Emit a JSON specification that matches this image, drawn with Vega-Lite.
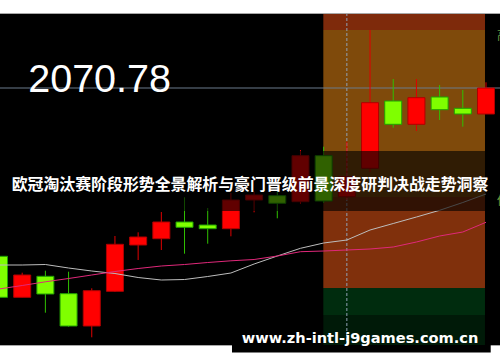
{
  "$schema": "https://vega.github.io/schema/vega-lite/v6.json",
  "width": 500,
  "height": 332,
  "autosize": {"type": "none"},
  "padding": {"left": 0, "right": 0, "top": 13, "bottom": 17},
  "background": "#ffffff",
  "view": {"fill": "#000000", "stroke": null},
  "datasets": {
    "one": [{}],
    "candles": [
      {"i": 0, "o": 1986.63, "c": 1966.13, "h": 1989.78, "l": 1962.28, "d": "down"},
      {"i": 1, "o": 1966.13, "c": 1977.28, "h": 1978.43, "l": 1966.13, "d": "up"},
      {"i": 2, "o": 1976.63, "c": 1967.78, "h": 1979.43, "l": 1958.43, "d": "down"},
      {"i": 3, "o": 1967.93, "c": 1951.78, "h": 1978.93, "l": 1951.43, "d": "down"},
      {"i": 4, "o": 1951.78, "c": 1969.43, "h": 1970.63, "l": 1946.13, "d": "up"},
      {"i": 5, "o": 1969.13, "c": 1992.63, "h": 1996.78, "l": 1968.78, "d": "up"},
      {"i": 6, "o": 1992.28, "c": 1996.28, "h": 1998.63, "l": 1984.78, "d": "up"},
      {"i": 7, "o": 1995.43, "c": 2003.78, "h": 2008.78, "l": 1989.78, "d": "up"},
      {"i": 8, "o": 2003.78, "c": 2001.13, "h": 2016.13, "l": 1987.93, "d": "down"},
      {"i": 9, "o": 2002.28, "c": 2000.43, "h": 2010.78, "l": 1992.93, "d": "down"},
      {"i": 10, "o": 2000.43, "c": 2014.78, "h": 2018.28, "l": 1996.63, "d": "up"},
      {"i": 11, "o": 2014.78, "c": 2017.28, "h": 2018.93, "l": 2008.63, "d": "up"},
      {"i": 12, "o": 2016.93, "c": 2013.13, "h": 2018.93, "l": 2005.63, "d": "down"},
      {"i": 13, "o": 2013.93, "c": 2036.93, "h": 2039.78, "l": 2012.78, "d": "up"},
      {"i": 14, "o": 2036.93, "c": 2014.28, "h": 2041.43, "l": 2013.28, "d": "down"},
      {"i": 15, "o": 2016.43, "c": 2026.43, "h": 2043.93, "l": 2014.78, "d": "up"},
      {"i": 16, "o": 2030.63, "c": 2063.43, "h": 2099.78, "l": 2028.78, "d": "up"},
      {"i": 17, "o": 2064.28, "c": 2052.63, "h": 2075.28, "l": 2050.93, "d": "down"},
      {"i": 18, "o": 2052.63, "c": 2065.93, "h": 2075.28, "l": 2049.28, "d": "up"},
      {"i": 19, "o": 2066.28, "c": 2059.93, "h": 2072.28, "l": 2054.78, "d": "down"},
      {"i": 20, "o": 2060.63, "c": 2057.78, "h": 2069.78, "l": 2051.43, "d": "down"},
      {"i": 21, "o": 2057.78, "c": 2070.78, "h": 2073.63, "l": 2057.78, "d": "up"}
    ],
    "ma": [
      {"i": 0, "ma5": 1982.28, "ma10": 1970.28},
      {"i": 1, "ma5": 1982.28, "ma10": 1972.03},
      {"i": 2, "ma5": 1982.53, "ma10": 1973.88},
      {"i": 3, "ma5": 1980.78, "ma10": 1975.53},
      {"i": 4, "ma5": 1979.28, "ma10": 1977.28},
      {"i": 5, "ma5": 1978.03, "ma10": 1979.03},
      {"i": 6, "ma5": 1976.03, "ma10": 1980.53},
      {"i": 7, "ma5": 1974.78, "ma10": 1981.78},
      {"i": 8, "ma5": 1975.03, "ma10": 1982.53},
      {"i": 9, "ma5": 1976.53, "ma10": 1983.53},
      {"i": 10, "ma5": 1978.28, "ma10": 1984.38},
      {"i": 11, "ma5": 1982.78, "ma10": 1985.03},
      {"i": 12, "ma5": 1986.78, "ma10": 1986.78},
      {"i": 13, "ma5": 1990.63, "ma10": 1988.93},
      {"i": 14, "ma5": 1993.28, "ma10": 1989.28},
      {"i": 15, "ma5": 1994.78, "ma10": 1989.78},
      {"i": 16, "ma5": 1999.78, "ma10": 1990.28},
      {"i": 17, "ma5": 2003.03, "ma10": 1991.28},
      {"i": 18, "ma5": 2006.28, "ma10": 1993.78},
      {"i": 19, "ma5": 2009.63, "ma10": 1996.78},
      {"i": 20, "ma5": 2013.53, "ma10": 1998.78},
      {"i": 21, "ma5": 2017.78, "ma10": 2003.63}
    ],
    "zones": [
      {"z": "a", "x0": 13.985, "x1": 20.957, "p0": 2099.78, "p1": 2108.28},
      {"z": "b", "x0": 13.985, "x1": 20.957, "p0": 2016.28, "p1": 2099.78},
      {"z": "c", "x0": 13.985, "x1": 20.957, "p0": 1970.78, "p1": 2016.28},
      {"z": "d", "x0": 13.985, "x1": 20.957, "p0": 1957.28, "p1": 1970.78},
      {"z": "e", "x0": 13.985, "x1": 20.957, "p0": 1942.28, "p1": 1957.28}
    ]
  },
  "layer": [
    {
      "data": {"name": "zones"},
      "mark": {"type": "rect"},
      "encoding": {
        "x": {"field": "x0", "type": "quantitative", "scale": {"domain": [0.0431, 21.604], "nice": false, "zero": false, "padding": 0}, "axis": null},
        "x2": {"field": "x1"},
        "y": {"field": "p0", "type": "quantitative", "scale": {"domain": [1942.28, 2108.28], "nice": false, "zero": false, "padding": 0}, "axis": null},
        "y2": {"field": "p1"},
        "fill": {"field": "z", "type": "nominal", "legend": null, "scale": {"domain": ["a", "b", "c", "d", "e"], "range": ["#7e2a0b", "#7f4a0b", "#80300c", "#002c0e", "#001a08"]}}
      }
    },
    {
      "data": {"name": "one"},
      "mark": {"type": "rule", "color": "#6b7a8c", "strokeWidth": 1},
      "encoding": {
        "y": {"datum": 2070.78, "type": "quantitative", "scale": {"domain": [1942.28, 2108.28], "nice": false, "zero": false, "padding": 0}, "axis": null}
      }
    },
    {
      "data": {"name": "one"},
      "mark": {"type": "rule", "color": "#8fa0b4", "strokeWidth": 1, "strokeDash": [3, 2]},
      "encoding": {
        "x": {"datum": 15, "type": "quantitative", "scale": {"domain": [0.0431, 21.604], "nice": false, "zero": false, "padding": 0}, "axis": null}
      }
    },
    {
      "data": {"name": "candles"},
      "mark": {"type": "rule", "strokeWidth": 1},
      "encoding": {
        "x": {"field": "i", "type": "quantitative", "scale": {"domain": [0.0431, 21.604], "nice": false, "zero": false, "padding": 0}, "axis": null},
        "y": {"field": "h", "type": "quantitative", "scale": {"domain": [1942.28, 2108.28], "nice": false, "zero": false, "padding": 0}, "axis": null},
        "y2": {"field": "l"},
        "color": {"condition": {"test": "datum.d === 'up'", "value": "#e00000"}, "value": "#30c000"}
      }
    },
    {
      "data": {"name": "candles"},
      "mark": {"type": "bar", "width": 17, "strokeWidth": 1},
      "encoding": {
        "x": {"field": "i", "type": "quantitative", "scale": {"domain": [0.0431, 21.604], "nice": false, "zero": false, "padding": 0}, "axis": null},
        "y": {"field": "o", "type": "quantitative", "scale": {"domain": [1942.28, 2108.28], "nice": false, "zero": false, "padding": 0}, "axis": null},
        "y2": {"field": "c"},
        "fill": {"condition": {"test": "datum.d === 'up'", "value": "#ff0000"}, "value": "#7fff00"},
        "stroke": {"condition": {"test": "datum.d === 'up'", "value": "#b00000"}, "value": "#20a000"}
      }
    },
    {
      "data": {"name": "ma"},
      "mark": {"type": "line", "color": "#bdbdbd", "strokeWidth": 1},
      "encoding": {
        "x": {"field": "i", "type": "quantitative", "scale": {"domain": [0.0431, 21.604], "nice": false, "zero": false, "padding": 0}, "axis": null},
        "y": {"field": "ma5", "type": "quantitative", "scale": {"domain": [1942.28, 2108.28], "nice": false, "zero": false, "padding": 0}, "axis": null}
      }
    },
    {
      "data": {"name": "ma"},
      "mark": {"type": "line", "color": "#e0287a", "strokeWidth": 1},
      "encoding": {
        "x": {"field": "i", "type": "quantitative", "scale": {"domain": [0.0431, 21.604], "nice": false, "zero": false, "padding": 0}, "axis": null},
        "y": {"field": "ma10", "type": "quantitative", "scale": {"domain": [1942.28, 2108.28], "nice": false, "zero": false, "padding": 0}, "axis": null}
      }
    },
    {
      "data": {"name": "one"},
      "mark": {"type": "rect", "color": "#000000", "opacity": 0.62},
      "encoding": {
        "x": {"datum": 0.0431, "type": "quantitative", "scale": {"domain": [0.0431, 21.604], "nice": false, "zero": false, "padding": 0}, "axis": null},
        "x2": {"datum": 21.604},
        "y": {"datum": 2039.28, "type": "quantitative", "scale": {"domain": [1942.28, 2108.28], "nice": false, "zero": false, "padding": 0}, "axis": null},
        "y2": {"datum": 2009.28}
      }
    },
    {
      "data": {"name": "one"},
      "mark": {"type": "text", "text": "欧冠淘汰赛阶段形势全景解析与豪门晋级前景深度研判决战走势洞察", "font": "Noto Sans CJK SC", "fontWeight": "bold", "fontSize": 15.9, "color": "#ffffff", "align": "center", "baseline": "middle"},
      "encoding": {
        "x": {"datum": 10.824, "type": "quantitative", "scale": {"domain": [0.0431, 21.604], "nice": false, "zero": false, "padding": 0}, "axis": null},
        "y": {"datum": 2022.28, "type": "quantitative", "scale": {"domain": [1942.28, 2108.28], "nice": false, "zero": false, "padding": 0}, "axis": null}
      }
    },
    {
      "data": {"name": "one"},
      "mark": {"type": "text", "text": "2070.78", "font": "Liberation Sans", "fontSize": 39.5, "color": "#ffffff", "align": "left", "baseline": "alphabetic"},
      "encoding": {
        "x": {"datum": 1.26, "type": "quantitative", "scale": {"domain": [0.0431, 21.604], "nice": false, "zero": false, "padding": 0}, "axis": null},
        "y": {"datum": 2068.78, "type": "quantitative", "scale": {"domain": [1942.28, 2108.28], "nice": false, "zero": false, "padding": 0}, "axis": null}
      }
    },
    {
      "data": {"name": "one"},
      "mark": {"type": "text", "text": "高", "font": "Noto Sans CJK SC", "fontSize": 12, "color": "#6a9a40", "align": "left", "baseline": "middle"},
      "encoding": {
        "x": {"datum": 21.475, "type": "quantitative", "scale": {"domain": [0.0431, 21.604], "nice": false, "zero": false, "padding": 0}, "axis": null},
        "y": {"datum": 2096.78, "type": "quantitative", "scale": {"domain": [1942.28, 2108.28], "nice": false, "zero": false, "padding": 0}, "axis": null}
      }
    },
    {
      "data": {"name": "one"},
      "mark": {"type": "text", "text": "低", "font": "Noto Sans CJK SC", "fontSize": 12, "color": "#6a9a40", "align": "left", "baseline": "middle"},
      "encoding": {
        "x": {"datum": 21.475, "type": "quantitative", "scale": {"domain": [0.0431, 21.604], "nice": false, "zero": false, "padding": 0}, "axis": null},
        "y": {"datum": 2014.28, "type": "quantitative", "scale": {"domain": [1942.28, 2108.28], "nice": false, "zero": false, "padding": 0}, "axis": null}
      }
    },
    {
      "data": {"name": "one"},
      "mark": {"type": "rule", "color": "#a8a8a8", "strokeWidth": 1},
      "encoding": {
        "y": {"datum": 2108.03, "type": "quantitative", "scale": {"domain": [1942.28, 2108.28], "nice": false, "zero": false, "padding": 0}, "axis": null}
      }
    },
    {
      "data": {"name": "one"},
      "mark": {"type": "rule", "color": "#a8a8a8", "strokeWidth": 1},
      "encoding": {
        "y": {"datum": 1942.03, "type": "quantitative", "scale": {"domain": [1942.28, 2108.28], "nice": false, "zero": false, "padding": 0}, "axis": null}
      }
    },
    {
      "data": {"name": "one"},
      "mark": {"type": "rect", "color": "#000000"},
      "encoding": {
        "x": {"datum": 10.047, "type": "quantitative", "scale": {"domain": [0.0431, 21.604], "nice": false, "zero": false, "padding": 0}, "axis": null},
        "x2": {"datum": 21.203},
        "y": {"datum": 1942.28, "type": "quantitative", "scale": {"domain": [1942.28, 2108.28], "nice": false, "zero": false, "padding": 0}, "axis": null},
        "y2": {"datum": 1938.53}
      }
    },
    {
      "data": {"name": "one"},
      "mark": {"type": "text", "text": "www.zh-intl-j9games.com.cn", "font": "DejaVu Sans", "fontWeight": "bold", "fontSize": 14.6, "color": "#ffffff", "align": "left", "baseline": "alphabetic"},
      "encoding": {
        "x": {"datum": 10.466, "type": "quantitative", "scale": {"domain": [0.0431, 21.604], "nice": false, "zero": false, "padding": 0}, "axis": null},
        "y": {"datum": 1943.13, "type": "quantitative", "scale": {"domain": [1942.28, 2108.28], "nice": false, "zero": false, "padding": 0}, "axis": null}
      }
    }
  ]
}
